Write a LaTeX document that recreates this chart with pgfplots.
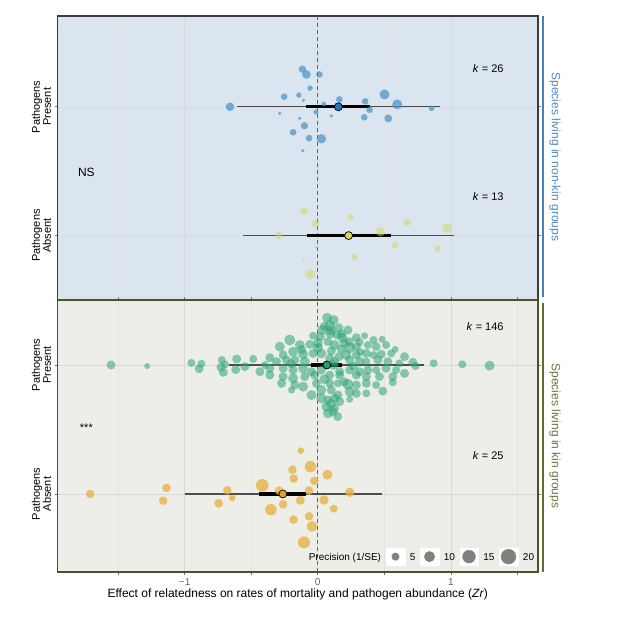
\documentclass[border=0pt]{standalone}
\usepackage{pgfplots}
\pgfplotsset{compat=1.18}
\usepackage{pgfplotstable}
\usepackage{fontspec}
\setmainfont{Liberation Sans}

\definecolor{bgtop}{RGB}{218,229,239}
\definecolor{bgbot}{RGB}{236,238,231}
\definecolor{frametop}{RGB}{60,60,60}
\definecolor{framebot}{RGB}{72,82,48}
\definecolor{stripblue}{RGB}{74,128,185}
\definecolor{stripgreen}{RGB}{92,110,52}
\definecolor{txtblue}{RGB}{82,136,192}
\definecolor{txtgreen}{RGB}{104,118,64}
\definecolor{ptblue}{RGB}{70,145,200}
\definecolor{ptyellow}{RGB}{212,216,96}
\definecolor{ptgreen}{RGB}{45,165,120}
\definecolor{ptorange}{RGB}{232,178,72}
\definecolor{mblue}{RGB}{35,120,185}
\definecolor{myellow}{RGB}{215,215,75}
\definecolor{mgreen}{RGB}{35,155,110}
\definecolor{morange}{RGB}{225,160,30}

\pgfplotstableread{
x y r
-0.659 2.000 4.3
-0.115 2.292 3.7
-0.085 2.251 4.3
0.013 2.251 3.3
-0.058 2.145 2.7
-0.252 2.078 3.3
-0.142 2.091 2.7
-0.107 2.050 1.8
0.045 2.021 2.3
0.163 2.057 3.3
0.357 2.042 3.3
0.502 2.096 5.0
0.597 2.019 5.0
0.390 1.977 3.3
0.856 1.988 2.8
-0.285 1.949 1.8
-0.013 1.959 2.5
0.103 1.930 1.8
0.350 1.918 3.3
0.530 1.910 4.0
-0.135 1.910 1.8
-0.100 1.853 3.7
-0.185 1.802 3.3
-0.065 1.757 3.3
0.028 1.752 4.7
-0.112 1.659 1.8
}\topPresent

\pgfplotstableread{
x y r
-0.103 1.189 4.0
-0.017 1.093 4.0
-0.292 1.000 3.7
0.247 1.140 3.3
0.674 1.104 3.7
0.472 1.029 4.7
0.972 1.057 5.0
0.579 0.926 3.7
0.901 0.899 3.3
-0.015 0.907 1.8
0.275 0.835 3.3
-0.105 0.806 1.8
-0.055 0.700 5.0
}\topAbsent

\pgfplotstableread{
x y r
0.070 2.367 5.0
0.120 2.349 5.0
0.090 2.305 5.5
0.160 2.289 4.5
0.227 2.271 4.5
0.035 2.271 5.0
0.095 2.245 5.0
0.145 2.233 4.5
0.020 2.220 4.5
-0.035 2.227 4.0
0.185 2.212 5.0
0.290 2.212 4.5
0.352 2.227 3.5
0.235 2.181 4.5
0.315 2.176 4.0
0.419 2.194 4.0
0.484 2.199 3.5
-0.210 2.194 5.5
-0.285 2.142 5.0
-0.135 2.155 5.0
-0.060 2.160 4.5
0.002 2.134 5.0
0.077 2.181 4.5
0.127 2.155 5.0
0.177 2.124 4.5
0.240 2.134 5.5
0.290 2.142 4.5
0.377 2.155 4.0
0.439 2.142 4.5
0.514 2.155 4.0
0.582 2.121 3.5
-0.260 2.078 4.5
-0.185 2.103 5.0
-0.110 2.083 5.0
-0.035 2.090 4.5
0.027 2.090 5.0
0.102 2.109 4.5
0.160 2.065 4.5
0.215 2.078 5.0
0.290 2.078 4.5
0.365 2.090 4.5
0.419 2.078 4.0
0.477 2.083 4.5
0.552 2.090 4.0
0.652 2.065 4.5
-0.484 2.047 4.0
-0.360 2.057 4.5
-0.310 2.026 4.5
-0.235 2.039 4.5
-0.172 2.039 4.5
-0.097 2.026 5.0
0.090 2.052 4.5
0.127 2.026 4.5
0.240 2.039 4.5
0.315 2.031 4.5
0.365 2.026 4.0
0.452 2.039 4.5
0.527 2.026 4.5
0.614 2.013 4.0
-0.434 1.948 4.5
-0.360 1.974 4.5
-0.260 1.974 4.5
-0.185 1.961 4.5
-0.110 1.974 5.0
-0.047 1.948 4.5
0.027 1.961 4.5
0.165 1.948 4.5
0.240 1.961 4.5
0.315 1.948 4.5
0.377 1.961 4.5
0.439 1.961 4.0
0.514 1.974 4.5
0.589 1.961 4.0
0.652 1.935 4.5
-0.360 1.922 4.5
-0.260 1.910 4.5
-0.185 1.897 5.0
-0.097 1.910 4.5
-0.022 1.922 4.5
0.090 1.922 4.5
0.165 1.922 4.5
0.290 1.922 4.5
0.365 1.910 4.5
0.464 1.910 4.5
0.564 1.910 4.5
-0.272 1.858 4.5
-0.172 1.845 4.5
-0.110 1.832 5.0
-0.010 1.858 4.5
0.090 1.858 4.5
0.152 1.858 4.0
0.227 1.850 5.5
0.290 1.845 4.5
0.365 1.858 4.5
0.439 1.845 4.0
0.564 1.866 4.0
-0.197 1.806 3.5
-0.047 1.767 5.0
0.027 1.806 5.0
0.102 1.806 4.5
0.152 1.767 4.5
0.240 1.793 5.0
0.290 1.780 4.5
0.365 1.780 4.0
0.489 1.798 4.5
0.027 1.742 5.0
0.077 1.729 4.5
0.127 1.742 4.5
0.165 1.716 4.5
0.240 1.734 3.5
0.065 1.677 5.0
0.127 1.664 4.5
0.077 1.625 5.0
0.115 1.638 4.5
-1.553 2.000 4.5
-1.281 1.992 3.0
-0.949 2.016 4.0
-0.874 2.010 4.0
-0.891 1.971 4.5
-0.721 2.039 4.0
-0.727 1.982 4.5
-0.709 1.943 4.5
-0.697 2.005 4.0
-0.609 2.047 4.5
-0.616 1.964 4.5
-0.547 1.987 4.5
-0.397 2.000 4.0
0.871 2.013 4.0
1.086 2.005 4.0
1.291 1.995 5.0
0.714 2.021 4.5
0.734 1.992 4.0
0.050 2.300 4.5
0.100 2.270 5.0
0.180 2.240 4.5
0.000 2.170 5.0
0.200 2.170 4.5
-0.120 2.120 4.5
0.320 2.100 4.0
0.120 2.000 5.0
-0.200 2.010 4.5
0.270 1.990 4.5
0.050 1.890 5.0
0.200 1.870 4.5
0.100 1.700 5.0
0.150 1.600 4.5
}\botPresent

\pgfplotstableread{
x y r
-1.136 1.047 4.3
-1.161 0.948 4.3
-0.679 1.029 4.3
-0.744 0.928 4.3
-0.642 0.969 3.3
-0.417 1.067 6.3
-0.352 0.878 5.7
-0.290 1.026 4.3
-0.260 0.920 4.3
-0.127 1.336 3.3
-0.190 1.188 4.3
-0.055 1.212 5.7
-0.180 1.119 4.3
-0.025 1.101 4.3
0.073 1.150 5.0
-0.065 1.026 4.3
-0.130 0.951 4.5
0.047 0.953 4.7
0.120 0.886 4.0
0.240 1.013 4.7
-0.182 0.801 4.3
-0.065 0.827 4.3
-0.043 0.749 5.3
-0.103 0.625 6.0
-1.709 1.000 4.3
}\botAbsent

\pgfplotsset{
  panel/.style={
    scale only axis, width=480.5pt,
    xmin=-1.955, xmax=1.655,
    xtick={-1,0,1}, minor xtick={-1.5,-0.5,0.5,1.5},
    ytick={1,2}, yticklabels={{Pathogens\\Absent},{Pathogens\\Present}},
    yticklabel style={rotate=90, anchor=south, align=center,
      font=\fontsize{11}{11}\selectfont, text=black},
    grid=both, grid style={draw=black!15, line width=0.5pt},
    minor grid style={draw=black!11, line width=0.5pt},
    tick align=outside, major tick length=3pt,
    y tick style={draw=black!55, line width=0.6pt},
  },
  bubbles/.style 2 args={
    forget plot, only marks, mark=*, scatter,
    scatter/use mapped color={draw opacity=0, fill=#1},
    mark options={draw opacity=0, fill=#1, fill opacity=#2},
    visualization depends on={\thisrow{r}\as\rad},
    scatter/@pre marker code/.append style={/tikz/mark size=\rad},
  },
  thinci/.style={forget plot, draw=black!70, line width=1.1pt},
  thickci/.style={forget plot, draw=black, line width=3.4pt},
  meanpt/.style={forget plot, only marks, mark=*, mark size=4pt,
    mark options={fill=#1, draw=black, line width=0.7pt}},
  zeroline/.style={forget plot, draw=black!60, line width=0.8pt, dash pattern=on 4pt off 3pt},
}

\begin{document}
\begin{tikzpicture}[font=\fontsize{11}{13}\selectfont]
\useasboundingbox (0pt,0pt) rectangle (617pt,617pt);

% ---------- top panel ----------
\begin{axis}[panel,
  at={(57.5pt,317pt)}, anchor=south west, height=284pt,
  ymin=0.5, ymax=2.705,
  axis background/.style={fill=bgtop},
  axis line style={draw=frametop, line width=1.3pt},
  xticklabels={}, x tick style={draw=none},
]
\addplot[zeroline] coordinates {(0,0.5) (0,2.705)};
\addplot[bubbles={ptblue}{0.7}] table[x=x,y=y] {\topPresent};
\addplot[bubbles={ptyellow}{0.5}] table[x=x,y=y] {\topAbsent};
\addplot[thinci] coordinates {(-0.61,2) (0.92,2)};
\addplot[thickci] coordinates {(-0.09,2) (0.39,2)};
\addplot[meanpt=mblue] coordinates {(0.155,2)};
\addplot[thinci] coordinates {(-0.56,1) (1.024,1)};
\addplot[thickci] coordinates {(-0.08,1) (0.547,1)};
\addplot[meanpt=myellow] coordinates {(0.232,1)};
\node[anchor=east] at (axis cs:1.423,2.30) {\textit{k} = 26};
\node[anchor=east] at (axis cs:1.423,1.30) {\textit{k} = 13};
\node[font=\fontsize{12}{14}\selectfont] at (axis cs:-1.738,1.494) {NS};
\end{axis}

% ---------- bottom panel ----------
\begin{axis}[panel,
  at={(57.5pt,45pt)}, anchor=south west, height=272pt,
  ymin=0.395, ymax=2.504,
  axis background/.style={fill=bgbot},
  axis line style={draw=framebot, line width=1.6pt},
  xticklabels={−1,0,1},
  xticklabel style={font=\fontsize{10}{12}\selectfont, text=black!62},
  x tick style={draw=black!55, line width=0.6pt},
  xlabel={Effect of relatedness on rates of mortality and pathogen abundance (\textit{Zr})},
  xlabel style={at={(axis description cs:0.5,0)}, anchor=center, yshift=-22pt,
    font=\fontsize{12}{14}\selectfont},
  legend columns=-1,
  legend style={at={(axis cs:-0.067,0.514)}, anchor=west, draw=none, fill=none,
    inner sep=0pt, outer sep=0pt, font=\fontsize{10}{12}\selectfont,
    nodes={inner sep=0pt, text depth=0pt},
    /tikz/every even column/.style={column sep=0pt},
    /tikz/every odd column/.style={column sep=0pt}},
]
\addplot[zeroline] coordinates {(0,0.395) (0,2.504)};
\addplot[bubbles={ptgreen}{0.55}] table[x=x,y=y] {\botPresent};
\addplot[bubbles={ptorange}{0.8}] table[x=x,y=y] {\botAbsent};
\addplot[thinci] coordinates {(-0.67,2) (0.80,2)};
\addplot[thickci] coordinates {(-0.052,2) (0.185,2)};
\addplot[meanpt=mgreen] coordinates {(0.068,2)};
\addplot[thinci] coordinates {(-1.0,1) (0.485,1)};
\addplot[thickci] coordinates {(-0.44,1) (-0.085,1)};
\addplot[meanpt=morange] coordinates {(-0.262,1)};
\node[anchor=east] at (axis cs:1.423,2.295) {\textit{k} = 146};
\node[anchor=east] at (axis cs:1.423,1.295) {\textit{k} = 25};
\node at (axis cs:-1.738,1.512) {***};
\addlegendimage{empty legend}
\addlegendentry{Precision (1/SE)\hspace*{5pt}\mbox{}}
\addlegendimage{legend image code/.code={\fill[white] (0pt,-8.5pt) rectangle (18.5pt,8.5pt);\fill[black!50] (9.25pt,0pt) circle (3.7pt);}}
\addlegendentry{\hspace*{5pt}5\hspace*{4.5pt}\mbox{}}
\addlegendimage{legend image code/.code={\fill[white] (0pt,-8.5pt) rectangle (18.5pt,8.5pt);\fill[black!50] (9.25pt,0pt) circle (5.2pt);}}
\addlegendentry{\hspace*{5pt}10\hspace*{4.5pt}\mbox{}}
\addlegendimage{legend image code/.code={\fill[white] (0pt,-8.5pt) rectangle (18.5pt,8.5pt);\fill[black!50] (9.25pt,0pt) circle (6.4pt);}}
\addlegendentry{\hspace*{5pt}15\hspace*{4.5pt}\mbox{}}
\addlegendimage{legend image code/.code={\fill[white] (0pt,-8.5pt) rectangle (18.5pt,8.5pt);\fill[black!50] (9.25pt,0pt) circle (7.4pt);}}
\addlegendentry{\hspace*{5pt}20}
\end{axis}

% ---------- facet strips ----------
\draw[stripblue, line width=2pt] (542.5pt,601pt) -- (542.5pt,320.3pt);
\draw[stripgreen, line width=2pt] (542.5pt,314pt) -- (542.5pt,45pt);
\node[rotate=-90, text=txtblue, font=\fontsize{12}{14}\selectfont] at (555pt,460pt) {Species living in non-kin groups};
\node[rotate=-90, text=txtgreen, font=\fontsize{12}{14}\selectfont] at (555pt,181pt) {Species living in kin groups};
\end{tikzpicture}
\end{document}
